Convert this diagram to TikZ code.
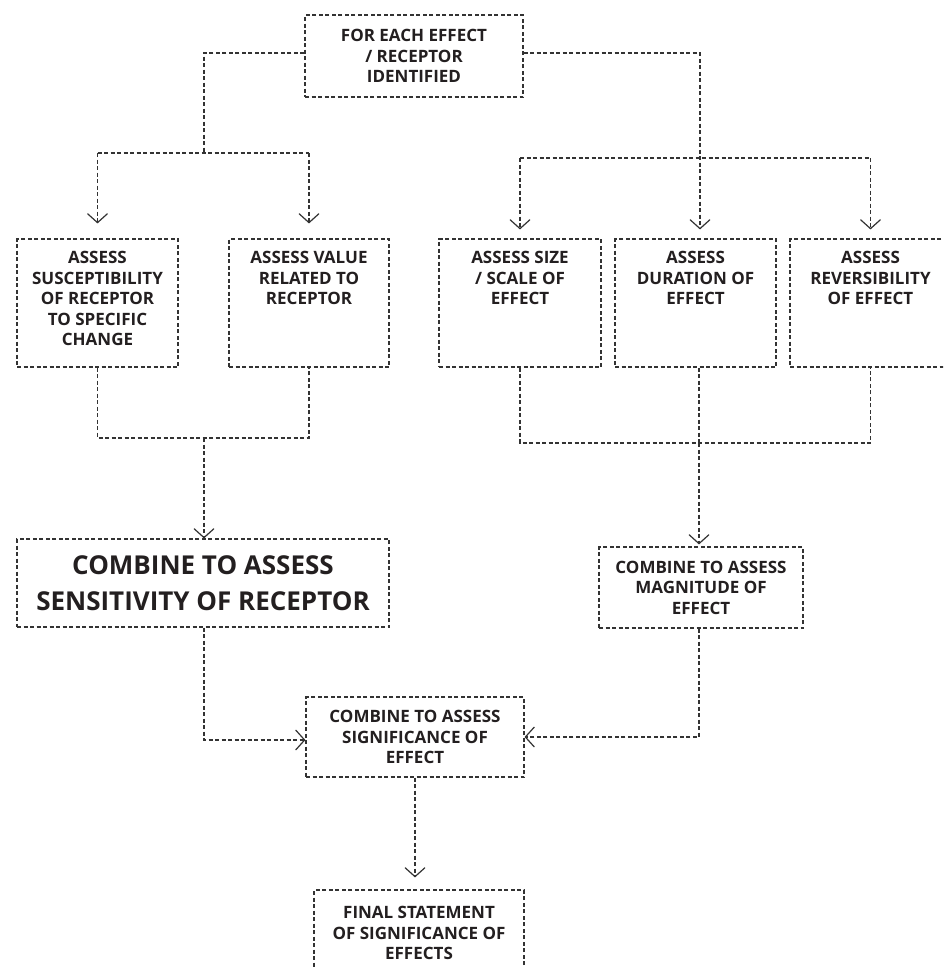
\documentclass[tikz,border=0pt]{standalone}
\usepackage{fontspec}
\setmainfont{Open Sans}
\usetikzlibrary{arrows.meta}
\definecolor{ln}{HTML}{333333}
\definecolor{tx}{HTML}{231F20}
\tikzset{
  box/.style={draw=ln, line width=1.1pt, dash pattern=on 4pt off 2.5pt, inner sep=0pt},
  conn/.style={draw=ln, line width=1.1pt, dash pattern=on 4pt off 2.5pt},
  arr/.style={-{Straight Barb[length=9pt,width=20pt,line width=1.2pt]}},
  txt/.style={text=tx, align=center, inner sep=0pt, font=\fontsize{17pt}{20.5pt}\selectfont\bfseries},
  bigtxt/.style={text=tx, align=center, inner sep=0pt, font=\fontsize{26pt}{36pt}\selectfont\bfseries}
}
\begin{document}
\begin{tikzpicture}[x=1pt,y=-1pt]
\useasboundingbox (0,0) rectangle (943,967);
\clip (0,0) rectangle (943,967);
\fill[white] (0,0) rectangle (943,967);

% boxes
\node[box, minimum width=218pt, minimum height=82pt] (top) at (414,56) {};
\node[txt] (topt) at (top.center) {FOR EACH EFFECT\\/ RECEPTOR\\IDENTIFIED};

\node[box, minimum width=161pt, minimum height=128pt] (sus) at (97.5,303) {};
\node[box, minimum width=160pt, minimum height=128pt] (val) at (309,303) {};
\node[box, minimum width=162pt, minimum height=128pt] (size) at (520,303) {};
\node[box, minimum width=161pt, minimum height=128pt] (dur) at (695.5,303) {};
\node[box, minimum width=161pt, minimum height=128pt] (rev) at (870.5,303) {};
\node[txt, anchor=north] (sust) at ([yshift=-13pt]sus.north) {ASSESS\\SUSCEPTIBILITY\\OF RECEPTOR\\TO SPECIFIC\\CHANGE};
\node[txt, anchor=north] (valt) at ([yshift=-13pt]val.north) {ASSESS VALUE\\RELATED TO\\RECEPTOR};
\node[txt, anchor=north] (sizet) at ([yshift=-13pt]size.north) {ASSESS SIZE\\/ SCALE OF\\EFFECT};
\node[txt, anchor=north] (durt) at ([yshift=-13pt]dur.north) {ASSESS\\DURATION OF\\EFFECT};
\node[txt, anchor=north] (revt) at ([yshift=-13pt]rev.north) {ASSESS\\REVERSIBILITY\\OF EFFECT};

\node[box, minimum width=372pt, minimum height=88pt] (sens) at (203,583) {};
\node[bigtxt] (senst) at (sens.center) {COMBINE TO ASSESS\\SENSITIVITY OF RECEPTOR};

\node[box, minimum width=204pt, minimum height=81pt] (mag) at (701,587.5) {};
\node[txt] (magt) at (mag.center) {COMBINE TO ASSESS\\MAGNITUDE OF\\EFFECT};

\node[box, minimum width=218pt, minimum height=80pt] (sig) at (415,737) {};
\node[txt] (sigt) at (sig.center) {COMBINE TO ASSESS\\SIGNIFICANCE OF\\EFFECT};

\node[box, minimum width=210pt, minimum height=86pt] (fin) at (419,933) {};
\node[txt] (fint) at (fin.center) {FINAL STATEMENT\\OF SIGNIFICANCE OF\\EFFECTS};

% junction coordinates
\coordinate (jl) at (204,153);
\coordinate (jr) at (700,158);
\coordinate (bl) at (204,438);
\coordinate (br) at (699,443);

% top to left branch
\draw[conn] ([yshift=3pt]top.west) -| (jl);
\draw[conn] (sus.north |- jl) -- (val.north |- jl);
\draw[conn, arr] (sus.north |- jl) -- ([yshift=15pt]sus.north);
\draw[conn, arr] (val.north |- jl) -- ([yshift=15pt]val.north);

% top to right branch
\draw[conn, arr] ([yshift=3pt]top.east) -| ([yshift=9pt]dur.north -| jr);
\draw[conn] (size.north |- jr) -- (rev.north |- jr);
\draw[conn, arr] (size.north |- jr) -- ([yshift=9pt]size.north);
\draw[conn, arr] (rev.north |- jr) -- ([yshift=9pt]rev.north);

% left combine
\draw[conn] (sus.south) -- (sus.south |- bl) -- (val.south |- bl) -- (val.south);
\draw[conn, arr] (bl) -- (sens.north -| bl);

% right combine
\draw[conn] (size.south) -- (size.south |- br) -- (rev.south |- br) -- (rev.south);
\draw[conn] (dur.south -| br) -- (br);
\draw[conn, arr] (br) -- ([yshift=2pt]mag.north -| br);

% to significance
\draw[conn, arr] (sens.south -| bl) |- ([yshift=-3pt]sig.west);
\draw[conn, arr] (mag.south -| br) |- (sig.east);

% to final
\draw[conn, arr] (sig.south) -- ([yshift=12pt]fin.north -| sig.south);
\end{tikzpicture}
\end{document}
